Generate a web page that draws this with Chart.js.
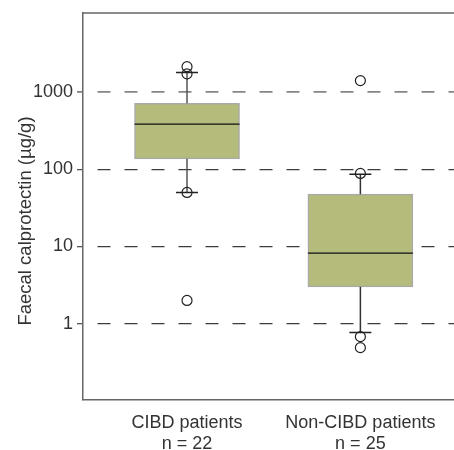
<!DOCTYPE html>
<html>
<head>
<meta charset="utf-8">
<script src="https://cdn.jsdelivr.net/npm/chart.js@4/dist/chart.umd.min.js"></script>
<style>
  html, body { margin: 0; padding: 0; background: #fff; overflow: hidden; }
  #wrap { width: 454px; height: 450px; }
</style>
</head>
<body>
<div id="wrap"><canvas id="boxChart"></canvas></div>
<script>
const categories = ["CIBD patients", "Non-CIBD patients"];
const sampleSizes = [22, 25];
const q1 = [136, 3.0];
const medians = [382, 8.2];
const q3 = [714, 47.5];
const whiskerLow = [50, 0.77];
const whiskerHigh = [1780, 86];
const outliersCIBD = [2120, 1710, 50, 2];
const outliersNonCIBD = [1400, 88, 0.68, 0.49];
const yTicks = [1, 10, 100, 1000];
const yTitle = "Faecal calprotectin (µg/g)";

const fontFamily = "'Liberation Sans', Arial, sans-serif";

const outlierPoints = [];
outliersCIBD.forEach((v) => outlierPoints.push({ x: 1, y: v }));
outliersNonCIBD.forEach((v) => outlierPoints.push({ x: 2, y: v }));

// whiskers, caps and medians drawn on top of the boxes
const boxParts = {
  id: "boxParts",
  afterDatasetDraw(chart, args) {
    if (args.index !== 0) return;
    const { ctx, scales } = chart;
    const x = scales.x;
    const y = scales.y;
    ctx.save();
    categories.forEach((c, i) => {
      const cx = x.getPixelForValue(i + 1);
      const half = args.meta.data[i].width / 2;
      ctx.strokeStyle = i === 0 ? "#555" : "#333";
      ctx.lineWidth = 1.5;
      ctx.beginPath();
      ctx.moveTo(cx, y.getPixelForValue(q3[i]));
      ctx.lineTo(cx, y.getPixelForValue(whiskerHigh[i]));
      ctx.moveTo(cx, y.getPixelForValue(q1[i]));
      ctx.lineTo(cx, y.getPixelForValue(whiskerLow[i]));
      ctx.stroke();
      ctx.strokeStyle = "#222";
      ctx.beginPath();
      [whiskerHigh[i], whiskerLow[i]].forEach((v) => {
        const py = y.getPixelForValue(v);
        ctx.moveTo(cx - 11, py);
        ctx.lineTo(cx + 11, py);
      });
      ctx.stroke();
      ctx.strokeStyle = "#111";
      ctx.lineWidth = 1.3;
      ctx.beginPath();
      const my = y.getPixelForValue(medians[i]);
      ctx.moveTo(cx - half, my);
      ctx.lineTo(cx + half, my);
      ctx.stroke();
    });
    ctx.restore();
  },
  afterDraw(chart) {
    const { ctx, chartArea } = chart;
    ctx.save();
    // top frame line
    ctx.strokeStyle = "#666";
    ctx.lineWidth = 1.5;
    ctx.beginPath();
    ctx.moveTo(chartArea.left, chartArea.top);
    ctx.lineTo(chart.width, chartArea.top);
    ctx.stroke();
    // y axis title
    ctx.translate(31, 221);
    ctx.rotate(-Math.PI / 2);
    ctx.fillStyle = "#333";
    ctx.font = "18.5px " + fontFamily;
    ctx.textAlign = "center";
    ctx.textBaseline = "alphabetic";
    ctx.fillText(yTitle, 0, 0);
    ctx.restore();
  },
};

const chart = new Chart(document.getElementById("boxChart"), {
  type: "bar",
  data: {
    datasets: [
      {
        label: "Boxes",
        data: categories.map((c, i) => ({ x: i + 1, y: [q1[i], q3[i]] })),
        backgroundColor: "#b5bb7a",
        borderColor: "#a9a9a9",
        borderWidth: 1.5,
        borderSkipped: false,
        barThickness: 105,
        order: 1,
      },
      {
        type: "scatter",
        label: "Outliers",
        data: outlierPoints,
        pointStyle: "circle",
        pointRadius: 5,
        pointBackgroundColor: "rgba(0,0,0,0)",
        pointBorderColor: "#222",
        pointBorderWidth: 1.2,
        order: 0,
      },
    ],
  },
  options: {
    responsive: true,
    maintainAspectRatio: false,
    animation: false,
    layout: { autoPadding: false, padding: { top: 13, left: 0, right: 0, bottom: 0 } },
    plugins: {
      legend: { display: false },
      tooltip: { enabled: false },
    },
    scales: {
      x: {
        type: "linear",
        min: 0.4,
        max: 2.54,
        offset: false,
        grid: { display: false, drawTicks: false, offset: false },
        border: { display: true, color: "#666", width: 1.5 },
        afterBuildTicks: (scale) => {
          scale.ticks = categories.map((c, i) => ({ value: i + 1 }));
        },
        afterFit: (scale) => {
          scale.height = 50;
          scale.paddingLeft = 0;
          scale.paddingRight = 0;
        },
        ticks: {
          padding: 12,
          color: "#333",
          font: { family: fontFamily, size: 18, lineHeight: 1.2 },
          callback: (value) => [categories[value - 1], "n = " + sampleSizes[value - 1]],
        },
      },
      y: {
        type: "logarithmic",
        min: 0.103,
        max: 10500,
        bounds: "data",
        z: 1,
        afterBuildTicks: (scale) => {
          scale.ticks = yTicks.map((v) => ({ value: v }));
        },
        afterFit: (scale) => {
          scale.width = 83;
          scale.paddingTop = 0;
          scale.paddingBottom = 0;
        },
        grid: {
          color: (ctx) => (ctx.tick && ctx.tick.value === 1000 ? "#858585" : "#3c3c3c"),
          lineWidth: (ctx) => (ctx.tick && ctx.tick.value === 1000 ? 1.8 : 1.3),
          tickLength: 6,
          tickColor: "#555",
          tickWidth: 1.3,
        },
        border: { display: true, color: "#666", width: 1.5, dash: [13, 14], dashOffset: 13 },
        ticks: {
          padding: 4,
          color: "#333",
          font: { family: fontFamily, size: 18 },
          callback: (value) => String(value),
        },
      },
    },
  },
  plugins: [boxParts],
});
</script>
</body>
</html>
